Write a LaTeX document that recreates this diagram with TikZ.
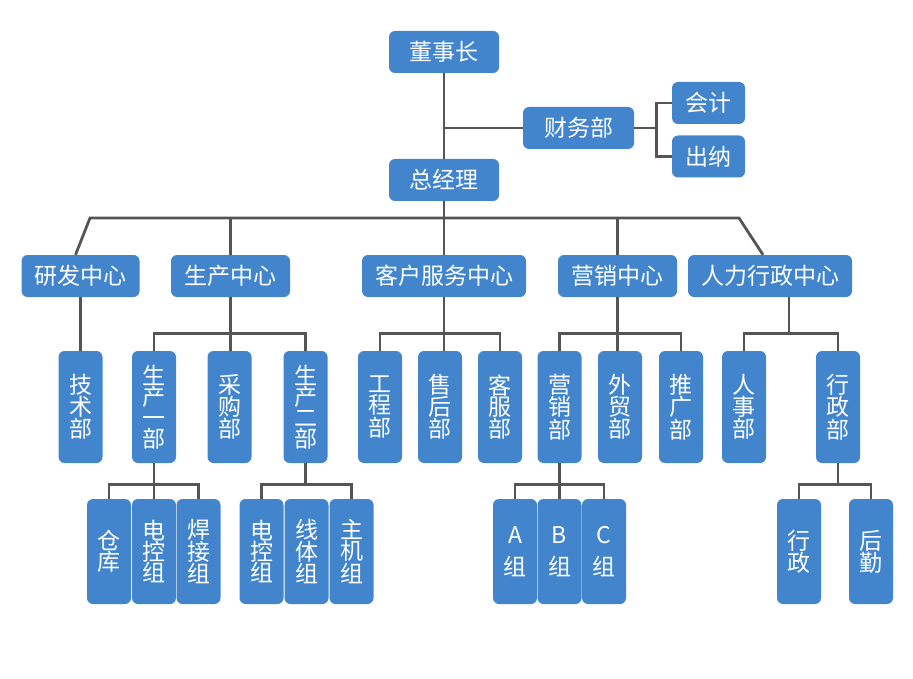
\documentclass[tikz,border=0pt]{standalone}
\usepackage{fontspec}
\setmainfont{Noto Sans CJK SC}
\usetikzlibrary{calc}
\definecolor{boxblue}{RGB}{66,133,204}
\definecolor{linegray}{RGB}{85,85,85}
\begin{document}
\begin{tikzpicture}[x=1pt,y=-1pt,
  box/.style={fill=boxblue, rounded corners=6pt, text=white, inner sep=0pt,
              font=\fontsize{23}{21}\selectfont, align=center},
  hbox/.style={box, minimum height=42pt},
  vbox/.style={box, minimum width=44pt, minimum height=112pt},
  gbox/.style={box, minimum width=44pt, minimum height=105pt},
  conn/.style={draw=linegray, line width=2.8pt}]
\useasboundingbox (0,0) rectangle (913,679);
% top
\node[hbox, minimum width=110pt] (dsz) at (444,52) {董事长};
\node[hbox, minimum width=111pt] (cwb) at (578.5,128) {财务部};
\node[hbox, minimum width=73pt] (kj) at (708.5,103) {会计};
\node[hbox, minimum width=73pt] (cn) at (708.5,156.5) {出纳};
\node[hbox, minimum width=110pt] (zjl) at (444,180) {总经理};
% level 2
\node[hbox, minimum width=118pt] (yf) at (80.5,276) {研发中心};
\node[hbox, minimum width=119pt] (sc) at (230.5,276) {生产中心};
\node[hbox, minimum width=164pt] (kf) at (444,276) {客户服务中心};
\node[hbox, minimum width=119pt] (yx) at (617.5,276) {营销中心};
\node[hbox, minimum width=164pt] (rl) at (770,276) {人力行政中心};
% level 3
\node[vbox] (jsb) at (80.5,407) {技\\术\\部};
\node[vbox] (sc1) at (154,407) {生\\产\\一\\部};
\node[vbox] (cgb) at (229.5,407) {采\\购\\部};
\node[vbox] (sc2) at (305.5,407) {生\\产\\二\\部};
\node[vbox] (gcb) at (380,407) {工\\程\\部};
\node[vbox] (shb) at (440,407) {售\\后\\部};
\node[vbox] (kfb) at (500,407) {客\\服\\部};
\node[vbox] (yxb) at (559.5,407) {营\\销\\部};
\node[vbox] (wmb) at (620,407) {外\\贸\\部};
\node[vbox] (tgb) at (681,407) {推\\广\\部};
\node[vbox] (rsb) at (744,407) {人\\事\\部};
\node[vbox] (xzb) at (838,407) {行\\政\\部};
% level 4
\node[gbox] (ck) at (109,551.5) {仓\\库};
\node[gbox] (dk1) at (154,551.5) {电\\控\\组};
\node[gbox] (hj) at (198.5,551.5) {焊\\接\\组};
\node[gbox] (dk2) at (261.5,551.5) {电\\控\\组};
\node[gbox] (xt) at (306.5,551.5) {线\\体\\组};
\node[gbox] (zj) at (351.5,551.5) {主\\机\\组};
\node[gbox] (ga) at (515,551.5) {A\\[11pt]组};
\node[gbox] (gb) at (559.5,551.5) {B\\[11pt]组};
\node[gbox] (gc) at (604,551.5) {C\\[11pt]组};
\node[gbox] (xz) at (799,551.5) {行\\政};
\node[gbox] (hq) at (871,551.5) {后\\勤};
% connectors top
\draw[conn] (dsz.south) -- (zjl.north);
\draw[conn] (dsz.south |- cwb.west) -- (cwb.west);
\coordinate (brk) at ($(cwb.east)+(22,0)$);
\draw[conn] (cwb.east) -- (brk);
\draw[conn] (kj.west) -| (brk) |- (cn.west);
% main bus
\coordinate (busL) at (90,218);
\coordinate (busR) at (739,218);
\draw[conn] (zjl.south) -- (kf.north);
\draw[conn] ($(yf.north)+(-5,0)$) -- (busL) -- (busR) -- ($(rl.north)+(-7,0)$);
\draw[conn] (sc.north |- busL) -- (sc.north);
\draw[conn] (yx.north |- busL) -- (yx.north);
% level 3 connectors
\draw[conn] (yf.south) -- (jsb.north);
\draw[conn] (sc.south) -- (sc.south |- cgb.north);
\draw[conn] (sc1.north) -- ++(0,-17) -| (sc2.north);
\draw[conn] (kf.south) -- (kf.south |- shb.north);
\draw[conn] (gcb.north) -- ++(0,-17) -| (kfb.north);
\draw[conn] (yx.south) -- (yx.south |- wmb.north);
\draw[conn] (yxb.north) -- ++(0,-17) -| (tgb.north);
\coordinate (rld) at ($(rl.south)+(19,37)$);
\draw[conn] ($(rl.south)+(19,0)$) -- (rld);
\draw[conn] (rsb.north) -- ++(0,-17) -| (xzb.north);
% level 4 connectors
\draw[conn] (sc1.south) -- (sc1.south |- dk1.north);
\draw[conn] (ck.north) -- ++(0,-14) -| (hj.north);
\draw[conn] (sc2.south) -- ++(0,22);
\draw[conn] (dk2.north) -- ++(0,-14) -| (zj.north);
\draw[conn] (yxb.south) -- (yxb.south |- gb.north);
\draw[conn] (ga.north) -- ++(0,-14) -| (gc.north);
\draw[conn] (xzb.south) -- ++(0,22);
\draw[conn] (xz.north) -- ++(0,-14) -| (hq.north);
\end{tikzpicture}
\end{document}
